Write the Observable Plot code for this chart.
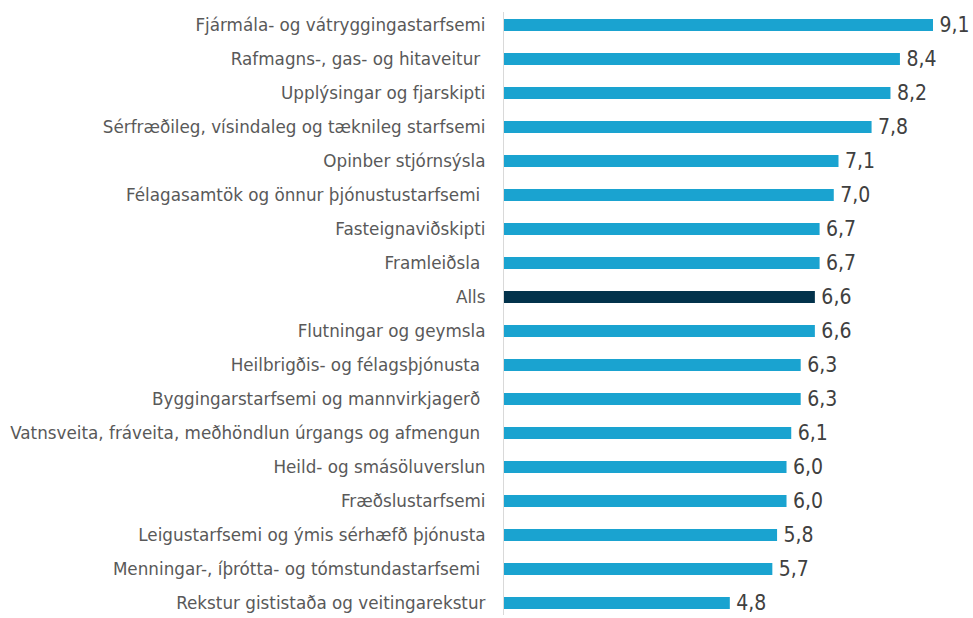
<!DOCTYPE html>
<html><head><meta charset="utf-8">
<script src="https://cdn.jsdelivr.net/npm/d3@7"></script>
<script src="https://cdn.jsdelivr.net/npm/@observablehq/plot@0.6"></script>
<style>body{margin:0;background:#fff;} svg{display:block;} svg text{white-space:pre;}</style>
</head><body><div id="chart"></div>
<script>
const categories = [
  "Fjármála- og vátryggingastarfsemi",
  "Rafmagns-, gas- og hitaveitur ",
  "Upplýsingar og fjarskipti",
  "Sérfræðileg, vísindaleg og tæknileg starfsemi",
  "Opinber stjórnsýsla",
  "Félagasamtök og önnur þjónustustarfsemi ",
  "Fasteignaviðskipti",
  "Framleiðsla ",
  "Alls",
  "Flutningar og geymsla",
  "Heilbrigðis- og félagsþjónusta ",
  "Byggingarstarfsemi og mannvirkjagerð ",
  "Vatnsveita, fráveita, meðhöndlun úrgangs og afmengun ",
  "Heild- og smásöluverslun",
  "Fræðslustarfsemi",
  "Leigustarfsemi og ýmis sérhæfð þjónusta",
  "Menningar-, íþrótta- og tómstundastarfsemi ",
  "Rekstur gististaða og veitingarekstur"
];
const values = [9.1, 8.4, 8.2, 7.8, 7.1, 7.0, 6.7, 6.7, 6.6, 6.6, 6.3, 6.3, 6.1, 6.0, 6.0, 5.8, 5.7, 4.8];
const highlight = "Alls";

const data = categories.map((c, i) => ({category: c, value: values[i]}));
const fmt = v => v.toFixed(1).replace(".", ",");

const chart = Plot.plot({
  width: 973,
  height: 618,
  marginLeft: 503,
  marginRight: 40,
  marginTop: 12,
  marginBottom: 3,
  style: {fontFamily: "'DejaVu Sans', sans-serif", color: "#404040", background: "#fff"},
  x: {domain: [0, 9.1], axis: null},
  y: {domain: categories, paddingInner: 0.65, paddingOuter: 0.1, label: null},
  marks: [
    Plot.axisY({tickSize: 0, tickPadding: 18, fontSize: 16.8, label: null, fill: "#595959"}),
    Plot.barX(data, {y: "category", x: "value", fill: d => d.category === highlight ? "#02324b" : "#1aa3d0"}),
    Plot.ruleX([0], {stroke: "#d9d9d9", strokeWidth: 1}),
    Plot.text(data, {y: "category", x: "value", text: d => fmt(d.value), textAnchor: "start", dx: 6, fontSize: 21, fontFamily: "'DejaVu Sans Condensed', sans-serif", fill: "#404040"})
  ]
});
document.getElementById("chart").appendChild(chart);
</script></body></html>
